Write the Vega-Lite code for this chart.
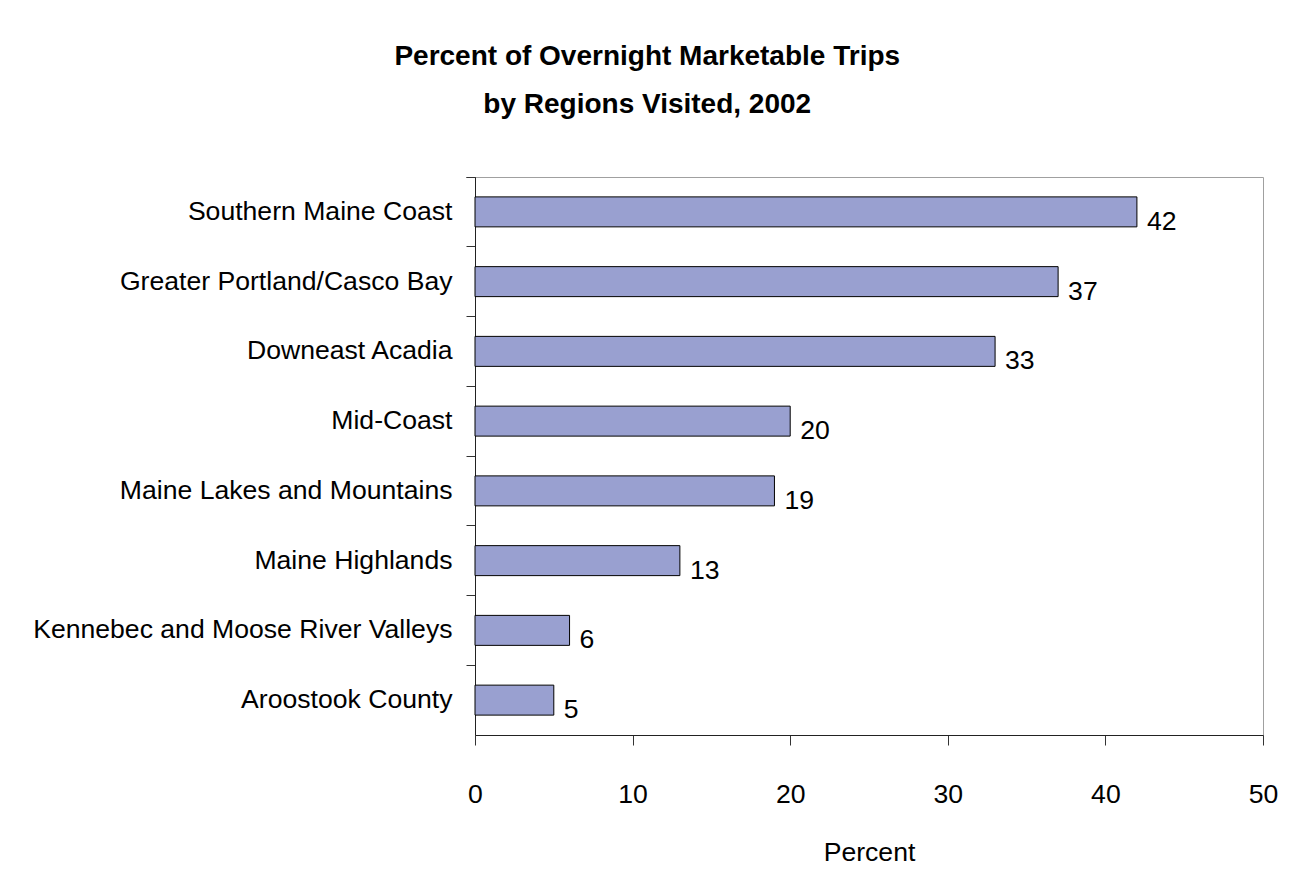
{
  "$schema": "https://vega.github.io/schema/vega-lite/v6.json",
  "width": 788,
  "height": 558,
  "autosize": {"type": "none"},
  "padding": {"left": 475, "top": 177, "right": 38, "bottom": 145},
  "background": "white",
  "title": {
    "text": ["Percent of Overnight Marketable Trips", "by Regions Visited, 2002"],
    "font": "Liberation Sans",
    "fontSize": 28,
    "fontWeight": "bold",
    "lineHeight": 48,
    "color": "black",
    "anchor": "middle",
    "frame": "bounds",
    "dx": -8,
    "offset": 45
  },
  "data": {
    "values": [
      {"region": "Southern Maine Coast", "percent": 42},
      {"region": "Greater Portland/Casco Bay", "percent": 37},
      {"region": "Downeast Acadia", "percent": 33},
      {"region": "Mid-Coast", "percent": 20},
      {"region": "Maine Lakes and Mountains", "percent": 19},
      {"region": "Maine Highlands", "percent": 13},
      {"region": "Kennebec and Moose River Valleys", "percent": 6},
      {"region": "Aroostook County", "percent": 5}
    ]
  },
  "encoding": {
    "y": {
      "field": "region",
      "type": "nominal",
      "sort": null,
      "scale": {"paddingInner": 0, "paddingOuter": 0},
      "axis": {
        "title": null,
        "bandPosition": 0,
        "tickExtra": true,
        "tickSize": 9,
        "tickColor": "#333333",
        "domainColor": "#222222",
        "labelPadding": 14,
        "labelFont": "Liberation Sans",
        "labelFontSize": 26.6,
        "labelColor": "black",
        "labelLimit": 0,
        "grid": false
      }
    },
    "x": {
      "field": "percent",
      "type": "quantitative",
      "scale": {"domain": [0, 50], "nice": false},
      "axis": {
        "values": [0, 10, 20, 30, 40, 50],
        "title": "Percent",
        "titleFont": "Liberation Sans",
        "titleFontSize": 26.6,
        "titleFontWeight": "normal",
        "titleColor": "black",
        "titlePadding": 32,
        "tickSize": 10,
        "tickColor": "#333333",
        "domainColor": "#222222",
        "labelPadding": 36,
        "labelFlush": false,
        "labelFont": "Liberation Sans",
        "labelFontSize": 26.6,
        "labelColor": "black",
        "grid": false
      }
    }
  },
  "layer": [
    {
      "mark": {"type": "bar", "height": {"band": 0.43}, "color": "#99a0d0", "stroke": "black", "strokeWidth": 1}
    },
    {
      "mark": {"type": "text", "align": "left", "baseline": "middle", "dx": 10, "dy": 10, "font": "Liberation Sans", "fontSize": 26.6, "color": "black"},
      "encoding": {"text": {"field": "percent", "type": "quantitative"}}
    }
  ],
  "config": {
    "view": {"stroke": "#a0a0a0", "strokeWidth": 1}
  }
}
